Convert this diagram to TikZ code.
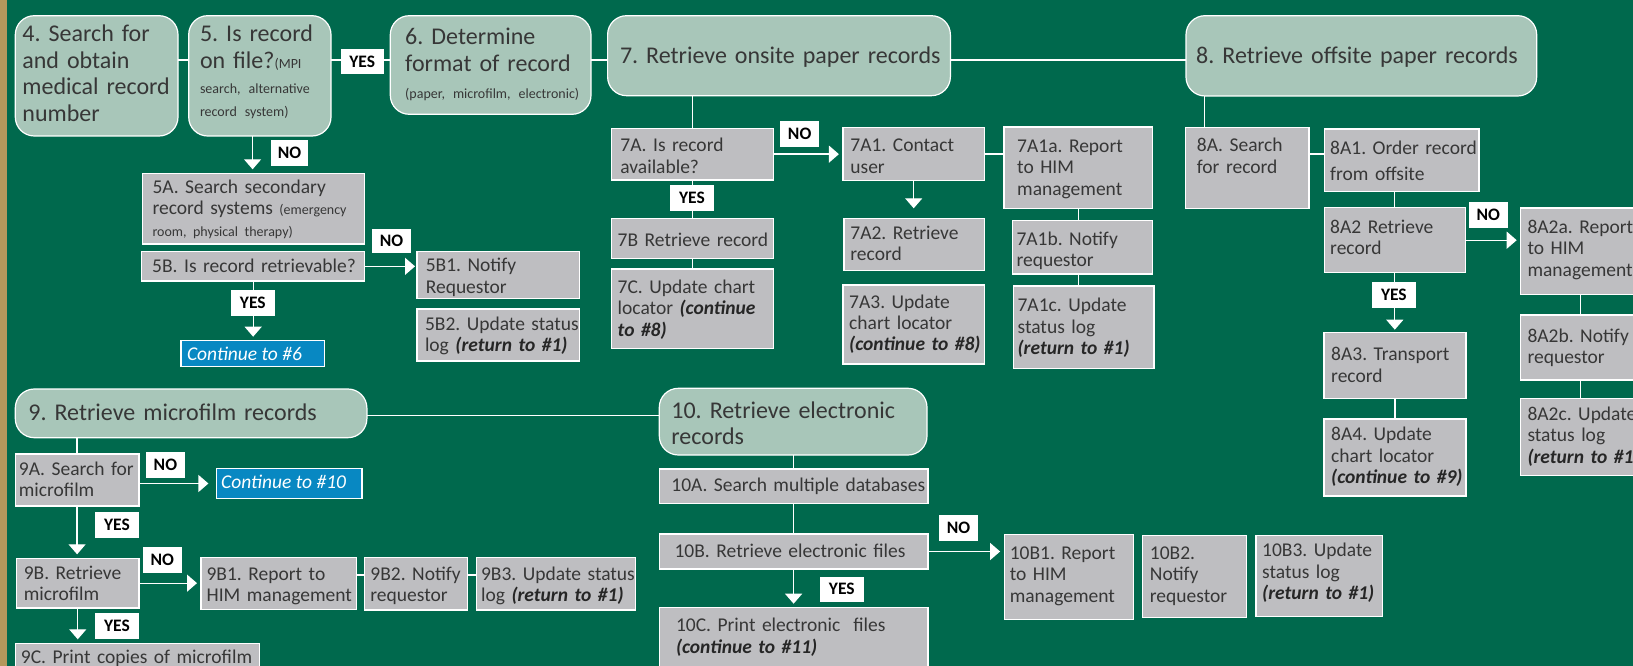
\documentclass[tikz,border=0pt]{standalone}
\usepackage{fontspec}
\setmainfont{Carlito}
\usetikzlibrary{arrows.meta}
\frenchspacing

\definecolor{bggreen}{RGB}{0,105,77}
\definecolor{gold}{RGB}{180,152,92}
\definecolor{sage}{RGB}{168,198,185}
\definecolor{boxgray}{RGB}{190,190,193}
\definecolor{txtgray}{RGB}{55,55,55}
\definecolor{contblue}{RGB}{8,136,194}

\newcommand\hdfont{\fontsize{24}{26.6}\selectfont}
\newcommand\bxfont{\fontsize{19.5}{21.5}\selectfont}
\newcommand\smfont{\fontsize{14}{21.5}\selectfont}
\newcommand\rt[1]{{\bfseries\itshape\color{black!85} #1}}

\tikzset{
  frame/.style={line width=1.2pt, draw=white, inner sep=0pt, outer sep=0pt},
  hbox/.style={frame, fill=sage, rounded corners=19pt},
  gbox/.style={frame, fill=boxgray},
  cbox/.style={frame, fill=contblue},
  txt/.style={anchor=base west, inner sep=0pt, text width=#1, align=left,
    text=txtgray, font=\bxfont},
  txt/.default=600pt,
  ctxt/.style={anchor=base west, inner sep=0pt, text=white,
    font=\bxfont\itshape},
  tag/.style={fill=white, inner sep=0pt, text=black,
    font=\fontsize{17.5}{18}\selectfont\bfseries},
  wire/.style={draw=white, line width=1.3pt},
  flow/.style={wire, -{Triangle[width=17pt,length=10pt]}, shorten >=4pt},
}

% box from its corners: style, name, x1, y1, x2, y2
\newcommand\boxat[6]{%
  \node[#1, minimum width={(#5-#3)*1pt}, minimum height={(#6-#4)*1pt}]
    (#2) at ({(#3+#5)/2},{(#4+#6)/2}) {};}
% YES / NO tag: name, x1, y1, x2, y2, text
\newcommand\tagat[6]{%
  \node[tag, minimum width={(#4-#2)*1pt}, minimum height={(#5-#3)*1pt}]
    (#1) at ({(#2+#4)/2},{(#3+#5)/2}) {#6};}

\begin{document}
\begin{tikzpicture}[x=1pt,y=-1pt]
\path[use as bounding box] (0,0) rectangle (1633,666);
\fill[bggreen] (0,0) rectangle (1633,666);
\fill[gold] (0,0) rectangle (7,666);
\clip (0,0) rectangle (1633,666);

% ---------- main steps, top row
\boxat{hbox}{b4}{15.3}{15.7}{178}{136}
\node[txt,font=\hdfont] (b4t) at (22.2,41.7) {4. Search for\\and obtain\\medical record\\number};
\boxat{hbox}{b5}{188.7}{15.7}{331}{136}
\node[txt,font=\hdfont] (b5t) at (199.8,42) {5. Is record\\on file?{\smfont(MPI}\\[-1.7pt]{\smfont search, alternative}\\[-3.1pt]{\smfont record system)}};
\boxat{hbox}{b6}{390.3}{15.7}{591}{114.3}
\node[txt,font=\hdfont] (b6t) at (405,45) {6. Determine\\format of record\\{\smfont (paper, microfilm, electronic)}};
\boxat{hbox}{b7}{607.6}{15.7}{950.4}{95.7}
\node[txt,font=\hdfont] (b7t) at (619.8,63.3) {7. Retrieve onsite paper records};
\boxat{hbox}{b8}{1186}{15.7}{1536.7}{96}
\node[txt,font=\hdfont] (b8t) at (1196,63.3) {8. Retrieve offsite paper records};

% ---------- step 5 branch
\boxat{gbox}{b5A}{142.3}{173.3}{364.7}{244}
\node[txt] (b5At) at (152.3,193.3) {5A. Search secondary\\record systems {\smfont(emergency}\\{\smfont room, physical therapy)}};
\boxat{gbox}{b5B}{141.6}{251.7}{364.7}{281}
\node[txt] (b5Bt) at (152,272.7) {5B. Is record retrievable?};
\boxat{gbox}{b5B1}{417}{251.7}{579.7}{298.3}
\node[txt] (b5B1t) at (425.6,271.7) {5B1. Notify\\Requestor};
\boxat{gbox}{b5B2}{417}{309}{579.7}{361}
\node[txt] (b5B2t) at (424.8,330) {5B2. Update status\\log \rt{(return to \#1)}};
\boxat{cbox}{c6}{181}{340.7}{324.5}{366.7}
\node[ctxt] (c6t) at (186.8,360) {Continue to \#6};

% ---------- step 7 branch
\boxat{gbox}{b7A}{611.4}{128.3}{773.6}{180}
\node[txt] (b7At) at (620.2,151.7) {7A. Is record\\available?};
\boxat{gbox}{b7B}{611.4}{218.3}{773.6}{258.3}
\node[txt] (b7Bt) at (617.5,246.7) {7B Retrieve record};
\boxat{gbox}{b7C}{611.4}{269}{773.6}{348.3}
\node[txt] (b7Ct) at (617.5,293.3) {7C. Update chart\\locator \rt{(continue}\\\rt{to \#8)}};
\boxat{gbox}{b7A1}{842.9}{127.7}{984.5}{180.3}
\node[txt] (b7A1t) at (850.2,152) {7A1. Contact\\user};
\boxat{gbox}{b7A2}{844}{218.3}{984.5}{270.7}
\node[txt] (b7A2t) at (850.2,239.3) {7A2. Retrieve\\record};
\boxat{gbox}{b7A3}{842.9}{285}{984.5}{364}
\node[txt] (b7A3t) at (849,308.3) {7A3. Update\\chart locator\\[-0.5pt]\rt{(continue to \#8)}};
\boxat{gbox}{b7A1a}{1004}{127}{1152.8}{208.3}
\node[txt] (b7A1at) at (1017,152.3) {7A1a. Report\\to HIM\\management};
\boxat{gbox}{b7A1b}{1012.4}{220.7}{1152.8}{274}
\node[txt] (b7A1bt) at (1016.3,245) {7A1b. Notify\\requestor};
\boxat{gbox}{b7A1c}{1013.6}{286}{1154}{368.3}
\node[txt] (b7A1ct) at (1017.4,311.7) {7A1c. Update\\status log\\[-0.5pt]\rt{(return to \#1)}};

% ---------- step 8 branch
\boxat{gbox}{b8A}{1185.3}{127.7}{1309}{208.7}
\node[txt] (b8At) at (1196.7,151.7) {8A. Search\\for record};
\boxat{gbox}{b8A1}{1324.3}{129}{1479}{191.7}
\node[txt] (b8A1t) at (1330,154) {8A1. Order record\\[5pt]from offsite};
\boxat{gbox}{b8A2}{1324.3}{207.7}{1465.3}{272.7}
\node[txt] (b8A2t) at (1330,233.3) {8A2 Retrieve\\record};
\boxat{gbox}{b8A3}{1324}{332.7}{1466}{398.3}
\node[txt] (b8A3t) at (1331,360.7) {8A3. Transport\\record};
\boxat{gbox}{b8A4}{1324}{419}{1466}{496}
\node[txt] (b8A4t) at (1331,440.7) {8A4. Update\\chart locator\\[-0.5pt]\rt{(continue to \#9)}};
\boxat{gbox}{b8A2a}{1520.7}{208}{1680}{294.7}
\node[txt] (b8A2at) at (1527.3,233.3) {8A2a. Report\\to HIM\\management};
\boxat{gbox}{b8A2b}{1520.7}{315}{1680}{380}
\node[txt] (b8A2bt) at (1527.3,342.3) {8A2b. Notify\\requestor};
\boxat{gbox}{b8A2c}{1520.7}{398.3}{1680}{475.7}
\node[txt] (b8A2ct) at (1527.3,420) {8A2c. Update\\status log\\\rt{(return to \#1)}};

% ---------- step 9 branch
\boxat{hbox}{b9}{15.3}{389}{366.9}{437.7}
\node[txt,font=\hdfont] (b9t) at (28.2,420.7) {9. Retrieve microfilm records};
\boxat{gbox}{b9A}{15.3}{454}{138.9}{506}
\node[txt] (b9At) at (18.7,475) {9A. Search for\\microfilm};
\boxat{cbox}{c10}{216.4}{468.7}{361.9}{498.3}
\node[ctxt] (c10t) at (221,488.3) {Continue to \#10};
\boxat{gbox}{b9B}{16.6}{558.3}{138.9}{608}
\node[txt] (b9Bt) at (23.6,579) {9B. Retrieve\\microfilm};
\boxat{gbox}{b9B1}{201}{557.3}{356.5}{609.7}
\node[txt] (b9B1t) at (206.4,580) {9B1. Report to\\HIM management};
\boxat{gbox}{b9B2}{364.8}{557.3}{467.2}{610}
\node[txt] (b9B2t) at (370.2,580) {9B2. Notify\\requestor};
\boxat{gbox}{b9B3}{476.7}{557.3}{635.5}{610}
\node[txt] (b9B3t) at (480.9,580) {9B3. Update status\\log \rt{(return to \#1)}};
\boxat{gbox}{b9C}{15.3}{643.3}{259.5}{700}
\node[txt] (b9Ct) at (20.7,663.3) {9C. Print copies of microfilm};

% ---------- step 10 branch
\boxat{hbox}{b10}{659.3}{388.3}{927}{455}
\node[txt,font=\hdfont] (b10t) at (671.2,418.3) {10. Retrieve electronic\\records};
\boxat{gbox}{b10A}{659.3}{469}{927.9}{503.3}
\node[txt] (b10At) at (671.2,491.7) {10A. Search multiple databases};
\boxat{gbox}{b10B}{659.3}{534}{927.9}{569}
\node[txt] (b10Bt) at (674.4,557.3) {10B. Retrieve electronic files};
\boxat{gbox}{b10C}{659.3}{607.7}{927.9}{700}
\node[txt] (b10Ct) at (675.8,631.7) {10C. Print electronic~ files\\\rt{(continue to \#11)}};
\boxat{gbox}{b10B1}{1004.1}{534.3}{1133.6}{619.3}
\node[txt] (b10B1t) at (1009.6,559) {10B1. Report\\to HIM\\management};
\boxat{gbox}{b10B2}{1142.8}{535.7}{1246.1}{617.3}
\node[txt] (b10B2t) at (1149.7,559) {10B2.\\Notify\\requestor};
\boxat{gbox}{b10B3}{1256}{535.7}{1382.7}{616.7}
\node[txt] (b10B3t) at (1262,556.7) {10B3. Update\\status log\\\rt{(return to \#1)}};

% ---------- connectors
\coordinate (r1) at (0,60);
\draw[wire] (b4.east |- r1) -- (b5.west |- r1);
\draw[wire] (b5.east |- r1) -- (b6.west |- r1);
\draw[wire] (b6.east |- r1) -- (b7.west |- r1);
\draw[wire] (b7.east |- r1) -- (b8.west |- r1);

\coordinate (v5) at (252.6,0);
\draw[flow] (b5.south -| v5) -- (b5A.north -| v5);
\draw[flow, shorten >=2pt] (b5B.east) -- (b5B.east -| b5B1.west);
\draw[flow] (b5B.south) -- (c6.north -| b5B.south);

\draw[wire] (b7.south -| b7A.north) -- (b7A.north);
\draw[wire] (b7A.south) -- (b7B.north);
\draw[wire] (b7B.south) -- (b7C.north);
\draw[flow] (b7A.east) -- (b7A.east -| b7A1.west);
\draw[wire] (b7A1.east) -- (b7A1.east -| b7A1a.west);
\draw[flow, shorten >=10pt] (b7A1.south) -- (b7A2.north -| b7A1.south);
\draw[wire] (b7A1a.south) -- (b7A1b.north -| b7A1a.south);
\draw[wire] (b7A1b.south -| b7A1a.south) -- (b7A1c.north -| b7A1a.south);

\coordinate (v8) at (1204.3,0);
\draw[wire] (b8.south -| v8) -- (b8A.north -| v8);
\coordinate (h8) at (0,154);
\draw[wire] (b8A.east |- h8) -- (b8A1.west |- h8);
\draw[wire] (b8A1.south -| b8A2.north) -- (b8A2.north);
\draw[flow] (b8A2.east) -- (b8A2.east -| b8A2a.west);
\coordinate (v8a) at (1580.7,0);
\draw[wire] (b8A2a.south -| v8a) -- (b8A2b.north -| v8a);
\draw[wire] (b8A2b.south -| v8a) -- (b8A2c.north -| v8a);
\draw[flow, shorten >=3pt] (b8A2.south) -- (b8A3.north -| b8A2.south);
\draw[wire] (b8A3.south) -- (b8A4.north);

\coordinate (h9) at (0,415.7);
\draw[wire] (b9.east |- h9) -- (b10.west |- h9);
\draw[wire] (b9.south -| b9A.north) -- (b9A.north);
\draw[flow, shorten >=8pt] (b9A.east |- c10.west) -- (c10.west);
\draw[flow] (b9A.south) -- (b9B.north -| b9A.south);
\draw[flow] (b9B.east) -- (b9B.east -| b9B1.west);
\coordinate (h9b) at (0,575);
\draw[wire] (b9B1.east |- h9b) -- (b9B2.west |- h9b);
\draw[wire] (b9B2.east |- h9b) -- (b9B3.west |- h9b);
\draw[flow] (b9B.south) -- (b9C.north -| b9B.south);

\draw[wire] (b10.south) -- (b10A.north -| b10.south);
\draw[wire] (b10A.south) -- (b10B.north -| b10A.south);
\draw[flow] (b10B.east) -- (b10B.east -| b10B1.west);
\draw[flow] (b10B.south) -- (b10C.north -| b10B.south);

% ---------- YES / NO tags
\tagat{y56}{340.6}{49.3}{383.8}{74}{YES}
\tagat{n5}{270.5}{140}{308.4}{165.7}{NO}
\tagat{n5B}{372.3}{228.7}{410.6}{253.3}{NO}
\tagat{y5B}{231}{290}{274.7}{315.7}{YES}
\tagat{n7A}{780.1}{121}{819.2}{147}{NO}
\tagat{y7A}{670}{185.3}{714}{210.7}{YES}
\tagat{n8A2}{1469}{202.3}{1507.7}{227.7}{NO}
\tagat{y8A2}{1372}{281.7}{1415.7}{307.7}{YES}
\tagat{n9A}{146.3}{452.3}{184.5}{477.7}{NO}
\tagat{y9A}{95.3}{512.3}{138.5}{537.7}{YES}
\tagat{n9B}{143}{547.3}{181.6}{572.7}{NO}
\tagat{y9B}{95.3}{613.3}{138.5}{638.7}{YES}
\tagat{n10B}{939.4}{515.3}{977.5}{540.7}{NO}
\tagat{y10B}{820}{576.7}{863.6}{601.7}{YES}
\end{tikzpicture}
\end{document}
